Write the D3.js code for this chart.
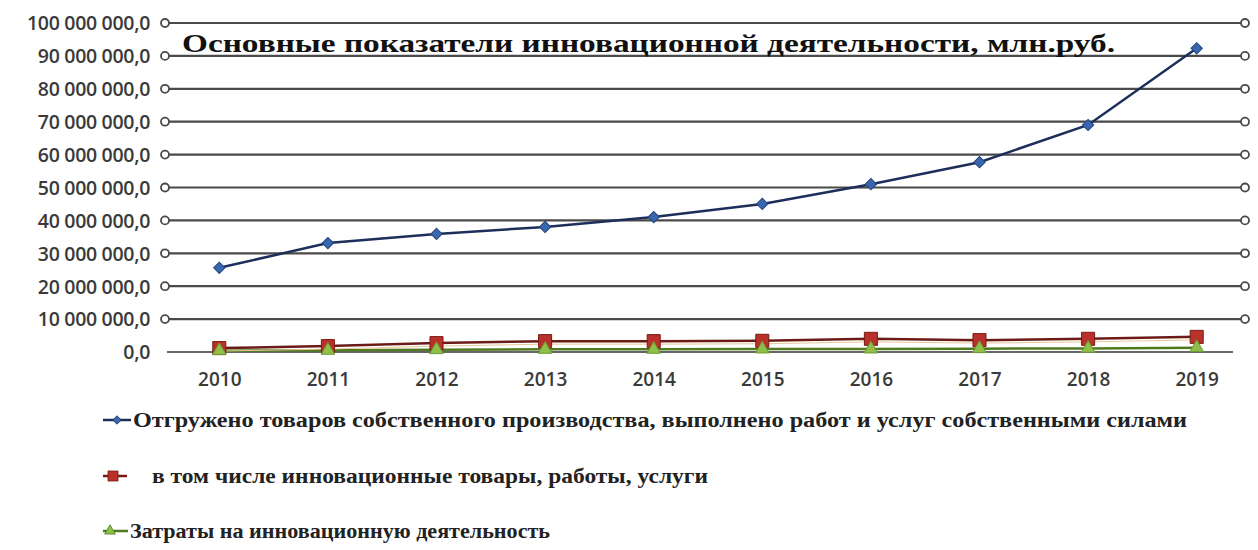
<!DOCTYPE html>
<html><head><meta charset="utf-8">
<script src="https://cdn.jsdelivr.net/npm/d3@7"></script>
<style>body{margin:0;background:#fff}svg{display:block}</style>
</head><body>
<svg id="c" width="1258" height="550"></svg>
<script>
const years = ["2010","2011","2012","2013","2014","2015","2016","2017","2018","2019"];
const shipped = [25600000,33100000,35900000,38000000,41000000,45000000,51000000,57700000,69000000,92300000];
const innovative = [1200000,1800000,2700000,3300000,3300000,3400000,4000000,3600000,4000000,4600000];
const costs = [400000,500000,700000,800000,800000,900000,900000,1000000,1100000,1300000];
const yTicks = [0,10000000,20000000,30000000,40000000,50000000,60000000,70000000,80000000,90000000,100000000];
const titleText = "Основные показатели инновационной деятельности,  млн.руб.";
const legendLabels = [
  "Отгружено товаров собственного производства,  выполнено работ и услуг собственными силами",
  "в том числе инновационные товары,  работы, услуги",
  "Затраты на инновационную деятельность"
];

const svg = d3.select("#c");
const x = d3.scalePoint().domain(years).range([165, 1251]).padding(0.5);
const y = d3.scaleLinear().domain([0, 100000000]).range([352, 23]);
const fmt = v => d3.format(",.1f")(v).replace(/,/g, " ").replace(".", ",");

// gridlines
const grid = svg.append("g");
yTicks.filter(t => t > 0).forEach(t => {
  grid.append("line").attr("x1", 165).attr("x2", 1245).attr("y1", y(t)).attr("y2", y(t))
    .attr("stroke", "#4a4a4a").attr("stroke-width", 2.2);
  [165, 1245].forEach(cx => grid.append("circle").attr("cx", cx).attr("cy", y(t)).attr("r", 4)
    .attr("fill", "#fff").attr("stroke", "#4a4a4a").attr("stroke-width", 1.8));
});
// zero axis line
svg.append("line").attr("x1", 167).attr("x2", 1233).attr("y1", y(0)).attr("y2", y(0))
  .attr("stroke", "#333").attr("stroke-width", 1.5);

// y axis labels
const yAxis = d3.axisLeft(y).tickValues(yTicks).tickFormat(fmt).tickSize(0).tickPadding(0);
const ya = svg.append("g").attr("transform", "translate(150,0)").call(yAxis);
ya.select(".domain").remove();
ya.selectAll("text").attr("font-family", "'Open Sans', sans-serif").attr("font-size", 19.5)
  .attr("font-weight", 600).attr("fill", "#3a3a3a").attr("dy", "0.35em").attr("letter-spacing", -0.3);

// x axis labels
const xAxis = d3.axisBottom(x).tickSize(0).tickPadding(0);
const xa = svg.append("g").attr("transform", "translate(0,372)").call(xAxis);
xa.select(".domain").remove();
xa.selectAll("text").attr("font-family", "'Open Sans', sans-serif").attr("font-size", 19)
  .attr("font-weight", 600).attr("fill", "#3a3a3a").attr("dy", "0.71em");

const line = d3.line().x((d, i) => x(years[i])).y(d => y(d));

// green series
svg.append("path").datum(costs).attr("d", line).attr("fill", "none")
  .attr("stroke", "#4f7a1e").attr("stroke-width", 2.5);
// red series
svg.append("path").datum(innovative).attr("d", line).attr("fill", "none")
  .attr("stroke", "#6b1a16").attr("stroke-width", 2.5);
svg.append("path").datum(innovative).attr("d", line).attr("fill", "none")
  .attr("stroke", "#e8c89a").attr("stroke-width", 1).attr("transform", "translate(0,3)");
// blue series
svg.append("path").datum(shipped).attr("d", line).attr("fill", "none")
  .attr("stroke", "#1c2f5a").attr("stroke-width", 2.5);

const diamond = d3.symbol().type(d3.symbolSquare).size(64);
const square = d3.symbol().type(d3.symbolSquare).size(170);
const tri = d3.symbol().type(d3.symbolTriangle).size(80);

svg.append("g").selectAll("path").data(innovative).join("path")
  .attr("transform", (d, i) => `translate(${x(years[i])},${y(d)})`)
  .attr("d", square).attr("fill", "#b8312a").attr("stroke", "#7a1a15").attr("stroke-width", 1);
svg.append("g").selectAll("path").data(costs).join("path")
  .attr("transform", (d, i) => `translate(${x(years[i])},${y(d)})`)
  .attr("d", tri).attr("fill", "#8fbf4a").attr("stroke", "#6a9a30").attr("stroke-width", 1);
svg.append("g").selectAll("path").data(shipped).join("path")
  .attr("transform", (d, i) => `translate(${x(years[i])},${y(d)}) rotate(45)`)
  .attr("d", diamond).attr("fill", "#3a66b0").attr("stroke", "#24457e").attr("stroke-width", 1);

// title
svg.append("text").attr("x", 182).attr("y", 52).text(titleText)
  .attr("font-family", "'Liberation Serif', 'Times New Roman', serif").attr("font-weight", "bold")
  .attr("font-size", 26).attr("fill", "#111")
  .attr("textLength", 933).attr("lengthAdjust", "spacingAndGlyphs");

// legend
const legend = [
  {y: 420, x1: 103, x2: 131, mx: 117, rot: 45, sym: d3.symbol().type(d3.symbolSquare).size(36), fill: "#3a66b0", stroke: "#1c2f5a", tx: 133, tw: 1054},
  {y: 476, x1: 103, x2: 127, mx: 113, rot: 0, sym: d3.symbol().type(d3.symbolSquare).size(100), fill: "#b8312a", stroke: "#7a1a15", tx: 152, tw: 556},
  {y: 531, x1: 103, x2: 128, mx: 110, rot: 0, sym: d3.symbol().type(d3.symbolTriangle).size(50), fill: "#8fbf4a", stroke: "#4f7a1e", tx: 130, tw: 420}
];
legend.forEach((l, i) => {
  svg.append("line").attr("x1", l.x1).attr("x2", l.x2).attr("y1", l.y).attr("y2", l.y)
    .attr("stroke", l.stroke).attr("stroke-width", 2.5);
  svg.append("path").attr("transform", `translate(${l.mx},${l.y}) rotate(${l.rot})`)
    .attr("d", l.sym()).attr("fill", l.fill).attr("stroke", l.stroke).attr("stroke-width", 0.8);
  svg.append("text").attr("x", l.tx).attr("y", l.y).attr("dy", "0.35em").text(legendLabels[i])
    .attr("font-family", "'Liberation Serif', 'Times New Roman', serif").attr("font-weight", "bold")
    .attr("font-size", 20).attr("fill", "#222")
    .attr("textLength", l.tw).attr("lengthAdjust", "spacingAndGlyphs");
});
</script>
</body></html>
